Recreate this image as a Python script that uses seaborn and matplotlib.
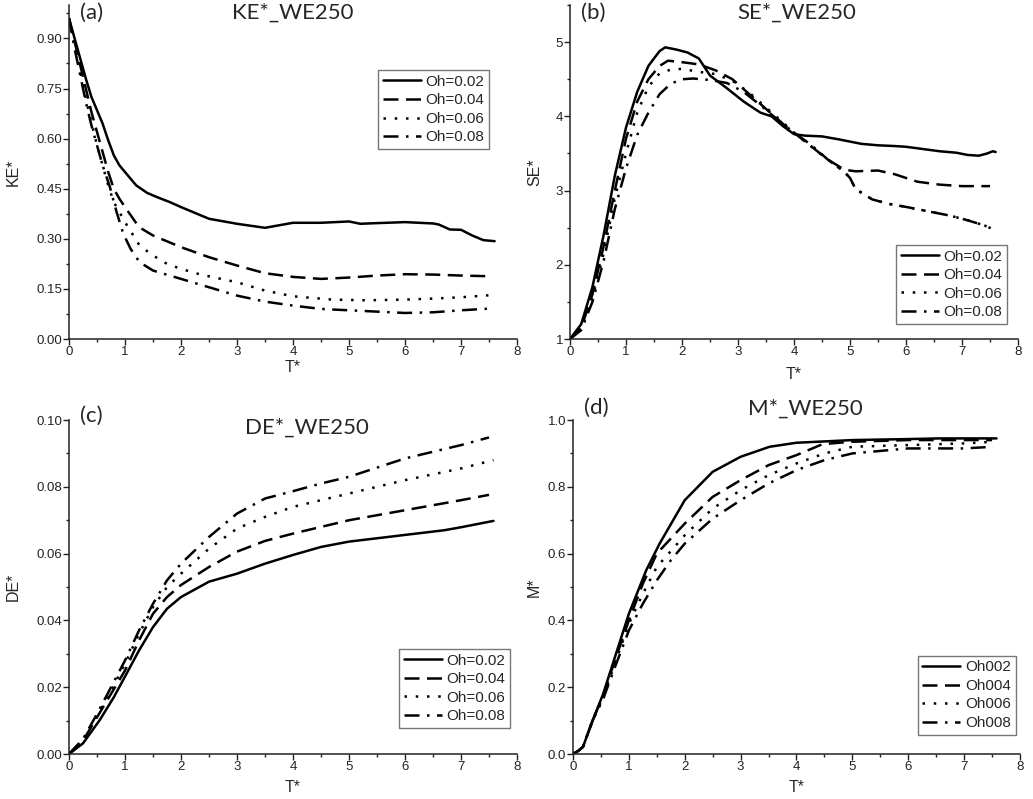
import numpy as np
import pandas as pd
import matplotlib
matplotlib.use("Agg")
import matplotlib.pyplot as plt
from matplotlib.ticker import MultipleLocator
import seaborn as sns

# ---- data ----
labels_oh = ["Oh=0.02", "Oh=0.04", "Oh=0.06", "Oh=0.08"]
labels_m = ["Oh002", "Oh004", "Oh006", "Oh008"]

# (a) KE*
ke_t1 = [0, 0.1, 0.2, 0.3, 0.4, 0.5, 0.6, 0.7, 0.8, 0.9, 1.0, 1.2, 1.4, 1.6, 1.8, 2.0, 2.5, 3.0, 3.5, 4.0, 4.5, 5.0, 5.2, 5.5, 6.0, 6.5, 6.6, 6.8, 7.0, 7.2, 7.4, 7.6]
ke_v1 = [0.96, 0.90, 0.84, 0.78, 0.725, 0.685, 0.645, 0.595, 0.55, 0.52, 0.50, 0.46, 0.437, 0.423, 0.41, 0.395, 0.36, 0.345, 0.333, 0.348, 0.348, 0.352, 0.345, 0.347, 0.35, 0.346, 0.343, 0.328, 0.327, 0.31, 0.296, 0.293]
ke_t2 = [0, 0.1, 0.2, 0.3, 0.4, 0.5, 0.6, 0.7, 0.8, 0.9, 1.0, 1.25, 1.5, 2.0, 2.5, 3.0, 3.5, 4.0, 4.5, 5.0, 5.5, 6.0, 6.5, 7.0, 7.5]
ke_v2 = [0.96, 0.89, 0.82, 0.75, 0.68, 0.62, 0.56, 0.50, 0.45, 0.42, 0.395, 0.335, 0.31, 0.275, 0.245, 0.22, 0.197, 0.186, 0.18, 0.184, 0.19, 0.194, 0.193, 0.19, 0.188]
ke_t3 = [0, 0.1, 0.2, 0.3, 0.4, 0.5, 0.6, 0.7, 0.8, 0.9, 1.0, 1.26, 1.5, 1.75, 2.0, 2.35, 3.0, 3.5, 4.0, 4.7, 5.3, 6.0, 6.5, 7.0, 7.5]
ke_v3 = [0.96, 0.88, 0.80, 0.72, 0.65, 0.58, 0.52, 0.46, 0.41, 0.38, 0.35, 0.28, 0.25, 0.225, 0.21, 0.193, 0.17, 0.145, 0.128, 0.118, 0.116, 0.118, 0.121, 0.125, 0.131]
ke_t4 = [0, 0.1, 0.2, 0.3, 0.4, 0.5, 0.6, 0.73, 0.85, 0.97, 1.1, 1.26, 1.5, 2.0, 2.5, 3.0, 3.5, 4.0, 4.5, 5.0, 5.5, 6.0, 6.5, 7.0, 7.5]
ke_v4 = [0.96, 0.87, 0.79, 0.71, 0.64, 0.58, 0.52, 0.455, 0.38, 0.315, 0.27, 0.23, 0.205, 0.18, 0.155, 0.13, 0.112, 0.10, 0.09, 0.086, 0.082, 0.078, 0.08, 0.086, 0.091]

# (b) SE*
se_t1 = [0, 0.2, 0.4, 0.6, 0.8, 1.0, 1.2, 1.4, 1.6, 1.7, 1.9, 2.1, 2.3, 2.5, 2.8, 3.1, 3.4, 3.6, 3.8, 4.0, 4.2, 4.5, 4.8, 5.0, 5.2, 5.5, 5.8, 6.0, 6.3, 6.6, 6.9, 7.1, 7.3, 7.45, 7.55, 7.6]
se_v1 = [1.0, 1.2, 1.7, 2.4, 3.2, 3.85, 4.33, 4.68, 4.88, 4.93, 4.90, 4.86, 4.78, 4.55, 4.38, 4.2, 4.05, 4.0, 3.87, 3.76, 3.74, 3.73, 3.69, 3.66, 3.63, 3.61, 3.60, 3.59, 3.56, 3.53, 3.51, 3.48, 3.47, 3.50, 3.53, 3.52]
se_t2 = [0, 0.2, 0.4, 0.6, 0.8, 1.0, 1.2, 1.4, 1.6, 1.75, 2.0, 2.3, 2.6, 2.9, 3.2, 3.5, 3.8, 4.0, 4.3, 4.6, 4.9, 5.1, 5.5, 5.8, 6.2, 6.6, 7.0, 7.5]
se_v2 = [1.0, 1.15, 1.6, 2.25, 3.0, 3.7, 4.2, 4.5, 4.68, 4.75, 4.73, 4.7, 4.62, 4.5, 4.3, 4.1, 3.9, 3.78, 3.6, 3.42, 3.28, 3.26, 3.27, 3.22, 3.12, 3.08, 3.06, 3.06]
se_t3 = [0, 0.2, 0.4, 0.6, 0.8, 1.0, 1.2, 1.4, 1.6, 1.8, 2.0, 2.3, 2.6, 2.9, 3.2, 3.5, 3.8, 4.0, 4.3, 4.6, 4.9, 5.0, 5.1, 5.4, 5.7, 6.0, 6.4, 6.8, 7.1, 7.4, 7.55]
se_v3 = [1.0, 1.15, 1.55, 2.15, 2.9, 3.5, 4.05, 4.4, 4.58, 4.63, 4.64, 4.6, 4.57, 4.48, 4.32, 4.12, 3.92, 3.78, 3.6, 3.42, 3.25, 3.17, 3.02, 2.88, 2.82, 2.78, 2.72, 2.66, 2.6, 2.53, 2.48]
se_t4 = [0, 0.2, 0.4, 0.6, 0.8, 1.0, 1.2, 1.4, 1.6, 1.8, 2.0, 2.2, 2.5, 2.8, 3.1, 3.4, 3.7, 4.0, 4.3, 4.6, 4.9, 5.0, 5.1, 5.4, 5.7, 6.0, 6.4, 6.8, 7.1, 7.4, 7.55]
se_v4 = [1.0, 1.12, 1.5, 2.05, 2.75, 3.3, 3.75, 4.05, 4.3, 4.44, 4.5, 4.51, 4.49, 4.45, 4.33, 4.15, 3.96, 3.78, 3.62, 3.42, 3.25, 3.17, 3.02, 2.88, 2.82, 2.78, 2.72, 2.66, 2.6, 2.53, 2.48]

# (c) DE*
de_t1 = [0, 0.25, 0.55, 0.8, 1.0, 1.25, 1.5, 1.75, 2.0, 2.5, 3.0, 3.5, 4.0, 4.5, 5.0, 6.0, 6.7, 7.0, 7.58]
de_v1 = [0.0, 0.0032, 0.0102, 0.017, 0.0232, 0.031, 0.038, 0.0435, 0.047, 0.0516, 0.054, 0.057, 0.0596, 0.062, 0.0636, 0.0656, 0.067, 0.0679, 0.0698]
de_t2 = [0, 0.25, 0.5, 0.75, 1.0, 1.25, 1.5, 1.75, 2.0, 2.5, 3.0, 3.5, 4.0, 4.5, 5.0, 6.0, 7.0, 7.5]
de_v2 = [0.0, 0.004, 0.011, 0.018, 0.025, 0.034, 0.042, 0.047, 0.0506, 0.056, 0.0606, 0.0638, 0.066, 0.068, 0.070, 0.073, 0.076, 0.0776]
de_t3 = [0, 0.25, 0.5, 0.75, 1.0, 1.25, 1.5, 1.75, 2.0, 2.5, 3.0, 3.5, 4.0, 4.5, 5.0, 6.0, 7.0, 7.58]
de_v3 = [0.0, 0.004, 0.0115, 0.019, 0.027, 0.036, 0.044, 0.05, 0.054, 0.0615, 0.0675, 0.071, 0.074, 0.076, 0.078, 0.082, 0.0855, 0.088]
de_t4 = [0, 0.25, 0.5, 0.75, 1.0, 1.25, 1.5, 1.75, 2.0, 2.5, 3.0, 3.5, 4.0, 4.5, 5.0, 6.0, 7.0, 7.5]
de_v4 = [0.0, 0.0045, 0.012, 0.02, 0.028, 0.037, 0.045, 0.052, 0.057, 0.065, 0.072, 0.0765, 0.0787, 0.081, 0.083, 0.0885, 0.0925, 0.0948]

# (d) M*
m_t1 = [0, 0.1, 0.18, 0.35, 0.54, 0.75, 1.0, 1.31, 1.55, 2.0, 2.5, 3.0, 3.52, 4.0, 5.0, 6.0, 6.57, 7.58]
m_v1 = [0.0, 0.01, 0.022, 0.1, 0.18, 0.29, 0.42, 0.55, 0.63, 0.76, 0.845, 0.89, 0.92, 0.932, 0.94, 0.943, 0.945, 0.945]
m_t2 = [0, 0.1, 0.18, 0.35, 0.54, 0.75, 1.0, 1.25, 1.5, 2.0, 2.5, 3.0, 3.5, 4.0, 4.47, 5.0, 6.0, 7.5]
m_v2 = [0.0, 0.01, 0.022, 0.1, 0.175, 0.28, 0.40, 0.51, 0.60, 0.69, 0.77, 0.82, 0.865, 0.895, 0.928, 0.935, 0.94, 0.94]
m_t3 = [0, 0.1, 0.18, 0.35, 0.54, 0.75, 1.0, 1.25, 1.5, 2.0, 2.5, 3.0, 3.5, 4.0, 4.5, 5.0, 6.0, 7.0, 7.52]
m_v3 = [0.0, 0.01, 0.022, 0.1, 0.17, 0.27, 0.39, 0.48, 0.56, 0.655, 0.735, 0.79, 0.835, 0.87, 0.9, 0.92, 0.925, 0.93, 0.935]
m_t4 = [0, 0.1, 0.18, 0.35, 0.54, 0.75, 1.0, 1.25, 1.5, 1.75, 2.0, 2.5, 3.0, 3.5, 4.0, 4.5, 5.0, 6.0, 7.0, 7.52]
m_v4 = [0.0, 0.01, 0.022, 0.1, 0.165, 0.26, 0.37, 0.45, 0.52, 0.58, 0.63, 0.705, 0.76, 0.81, 0.85, 0.88, 0.9, 0.915, 0.915, 0.92]

styles = ["-", (0, (6, 3)), (0, (1, 3.5)), (0, (6, 3, 1, 3))]

sns.set_style("ticks")
plt.rcParams["font.family"] = ["Liberation Sans", "DejaVu Sans"]

fig = plt.figure(figsize=(10.33, 7.99), dpi=100)

panels = [
    dict(rect=[0.0668, 0.5757, 0.4337, 0.418], series=[(ke_t1, ke_v1), (ke_t2, ke_v2), (ke_t3, ke_v3), (ke_t4, ke_v4)],
         labels=labels_oh, ylim=(0, 1.0), ymin=0.075, fmt="{:.2f}", yticks=[0, 0.15, 0.30, 0.45, 0.60, 0.75, 0.90],
         ylabel="KE*", tag="(a)", title="KE*_WE250", tag_y=0.976, title_x=0.5, title_y=0.976,
         leg_loc="upper right", leg_anchor=(0.9375, 0.805), ylab_x=-0.108, xlab_y=-0.064),
    dict(rect=[0.5518, 0.5757, 0.4337, 0.418], series=[(se_t1, se_v1), (se_t2, se_v2), (se_t3, se_v3), (se_t4, se_v4)],
         labels=labels_oh, ylim=(1, 5.5), ymin=0.5, fmt="{:.0f}", yticks=[1, 2, 3, 4, 5],
         ylabel="SE*", tag="(b)", title="SE*_WE250", tag_y=0.976, title_x=0.507, title_y=0.976,
         leg_loc="lower right", leg_anchor=(0.975, 0.045), ylab_x=-0.062, xlab_y=-0.085),
    dict(rect=[0.0668, 0.0563, 0.4337, 0.418], series=[(de_t1, de_v1), (de_t2, de_v2), (de_t3, de_v3), (de_t4, de_v4)],
         labels=labels_oh, ylim=(0, 0.10), ymin=0.01, fmt="{:.2f}", yticks=[0, 0.02, 0.04, 0.06, 0.08, 0.10],
         ylabel="DE*", tag="(c)", title="DE*_WE250", tag_y=1.012, title_x=0.53, title_y=0.976,
         leg_loc="lower right", leg_anchor=(0.984, 0.078), ylab_x=-0.107, xlab_y=-0.078),
    dict(rect=[0.5547, 0.0563, 0.4327, 0.418], series=[(m_t1, m_v1), (m_t2, m_v2), (m_t3, m_v3), (m_t4, m_v4)],
         labels=labels_m, ylim=(0, 1.0), ymin=0.1, fmt="{:.1f}", yticks=[0, 0.2, 0.4, 0.6, 0.8, 1.0],
         ylabel="M*", tag="(d)", title="M*_WE250", tag_y=1.035, title_x=0.52, title_y=1.035,
         leg_loc="lower right", leg_anchor=(0.99, 0.058), ylab_x=-0.07, xlab_y=-0.078),
]

for p in panels:
    ax = fig.add_axes(p["rect"])
    for (t, v), lab, ls in zip(p["series"], p["labels"], styles):
        df = pd.DataFrame({"T": t, "v": v})
        sns.lineplot(data=df, x="T", y="v", ax=ax, color="black", linewidth=1.8,
                     linestyle=ls, label=lab, estimator=None)
    ax.set_xlim(0, 8)
    ax.set_ylim(*p["ylim"])
    ax.xaxis.set_major_locator(MultipleLocator(1))
    ax.xaxis.set_minor_locator(MultipleLocator(0.5))
    ax.set_yticks(p["yticks"])
    ax.set_yticklabels([p["fmt"].format(y) for y in p["yticks"]])
    ax.yaxis.set_minor_locator(MultipleLocator(p["ymin"]))
    ax.tick_params(which="major", direction="out", length=4, width=1, labelsize=9.5, pad=1, colors="#222222")
    ax.tick_params(which="minor", direction="out", length=2.5, width=1, colors="#222222")
    sns.despine(ax=ax)
    for s in ["left", "bottom"]:
        ax.spines[s].set_linewidth(1.1)
        ax.spines[s].set_color("#222222")
    ax.set_xlabel("T*", fontsize=11.5)
    ax.set_ylabel(p["ylabel"], fontsize=11.5)
    ax.yaxis.set_label_coords(p["ylab_x"], 0.5)
    ax.xaxis.set_label_coords(0.5, p["xlab_y"])
    ax.text(0.025, p["tag_y"], p["tag"], transform=ax.transAxes, fontsize=16,
            family="Lato", ha="left", va="center")
    ax.text(p["title_x"], p["title_y"], p["title"], transform=ax.transAxes, fontsize=16,
            family="Lato", ha="center", va="center")
    leg = ax.legend(loc=p["leg_loc"], bbox_to_anchor=p["leg_anchor"], fontsize=11,
                    frameon=True, fancybox=False, framealpha=1, edgecolor="#777777",
                    handlelength=2.5, handletextpad=0.3, labelspacing=0.3,
                    borderpad=0.3, borderaxespad=0)
    leg.get_frame().set_linewidth(1.0)

fig.savefig("out.png", dpi=100)
